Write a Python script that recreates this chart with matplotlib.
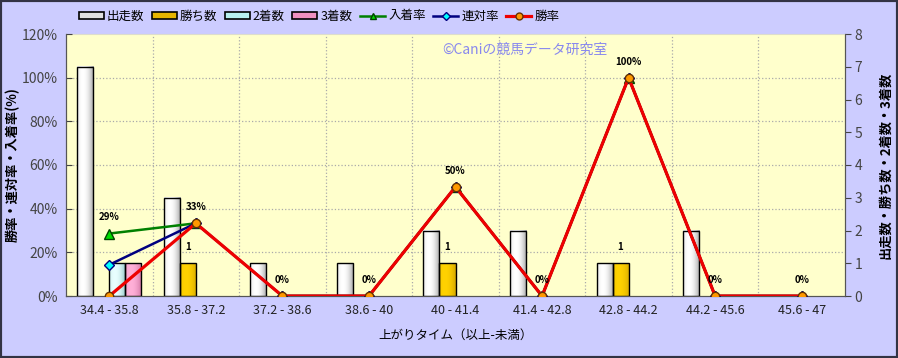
import numpy as np
import matplotlib
matplotlib.use("Agg")
import matplotlib.pyplot as plt
from matplotlib.patches import Rectangle, Patch
from matplotlib.lines import Line2D

plt.rcParams['font.family'] = ['Noto Sans CJK JP', 'DejaVu Sans']

categories = ["34.4 - 35.8", "35.8 - 37.2", "37.2 - 38.6", "38.6 - 40", "40 - 41.4",
              "41.4 - 42.8", "42.8 - 44.2", "44.2 - 45.6", "45.6 - 47"]
runs = [7, 3, 1, 1, 2, 2, 1, 2, 0]
wins = [0, 1, 0, 0, 1, 0, 1, 0, 0]
seconds = [1, 0, 0, 0, 0, 0, 0, 0, 0]
thirds = [1, 0, 0, 0, 0, 0, 0, 0, 0]
place_rate = [28.6, 33.3, 0, 0, 50, 0, 100, 0, 0]
rentai_rate = [14.3, 33.3, 0, 0, 50, 0, 100, 0, 0]
win_rate = [0, 33.3, 0, 0, 50, 0, 100, 0, 0]
pct_ticks = [0, 20, 40, 60, 80, 100, 120]
cnt_ticks = [0, 1, 2, 3, 4, 5, 6, 7, 8]

BG = "#CCCCFF"
PLOT_BG = "#FFFFCC"

fig = plt.figure(figsize=(8.98, 3.58), dpi=100, facecolor=BG)
ax = fig.add_axes([66/898, 1-296/358, (845-66)/898, (296-34)/358])
ax.set_facecolor(PLOT_BG)
ax2 = ax.twinx()
ax2.set_zorder(ax.get_zorder() + 1)
ax2.patch.set_visible(False)

n = len(categories)
x = np.arange(n)
bw = 0.185

def grad_bar(a, xc, h, base, hi, z=3):
    if h <= 0:
        return
    t = np.linspace(0, 1, 64)
    prof = np.clip(1 - ((t - 0.35) / 0.75) ** 2, 0, 1)
    base = np.array(matplotlib.colors.to_rgb(base))
    hi = np.array(matplotlib.colors.to_rgb(hi))
    img = base[None, :] * (1 - prof[:, None]) + hi[None, :] * prof[:, None]
    a.imshow(img[None, :, :], extent=(xc - bw/2, xc + bw/2, 0, h), aspect='auto',
             interpolation='bilinear', zorder=z)
    a.add_patch(Rectangle((xc - bw/2, 0), bw, h, fill=False, edgecolor='black', lw=1.0, zorder=z+0.1))

offs = [-1.5*bw, -0.5*bw, 0.5*bw, 1.5*bw]
series = [(runs, "#808080", "#FFFFFF"), (wins, "#C89B00", "#FFD200"),
          (seconds, "#70B0B0", "#E8FFFF"), (thirds, "#C06090", "#FFB0D8")]
for (vals, c0, c1), o in zip(series, offs):
    for xi, v in zip(x, vals):
        grad_bar(ax, xi + o, v, c0, c1)

ax.set_xlim(-0.5, n - 0.5)
ax.set_ylim(0, 8)
ax.set_yticks(cnt_ticks)
ax.yaxis.tick_right()
ax.yaxis.set_label_position("right")
ax.tick_params(axis='y', direction='out', length=4, colors='#444444', labelsize=10, pad=3)
ax.set_xticks(x)
ax.set_xticklabels(categories, fontsize=9, color='#222222')
ax.tick_params(axis='x', length=0, pad=6)
ax.set_xticks(np.arange(n - 1) + 0.5, minor=True)
ax.tick_params(axis='x', which='minor', length=0)
ax.grid(axis='x', which='minor', color='#AAAAAA', linestyle=':', lw=0.9)
for p in pct_ticks[1:-1]:
    ax.axhline(p / pct_ticks[-1] * cnt_ticks[-1], color='#AAAAAA', linestyle=':', lw=0.9, zorder=1)
ax.set_axisbelow(True)
ax.set_ylabel("出走数・勝ち数・2着数・3着数", fontsize=9.5, fontweight='bold', rotation=90)
ax.yaxis.set_label_coords((878 - 66) / 779, 0.5)
ax.set_xlabel("上がりタイム（以上-未満）", fontsize=9, labelpad=8)

ax.spines['top'].set_color('#DDDDCC')
ax2.spines['top'].set_visible(False)
for a in (ax, ax2):
    a.spines['left'].set_color('#555555')
    a.spines['right'].set_color('#555555')
    a.spines['bottom'].set_color('#555555')

# gold bar count labels
for xi, v in zip(x, wins):
    if v > 0:
        ax.annotate(str(v), (xi + offs[1], v), xytext=(0, 8), textcoords='offset points',
                    ha='center', va='bottom', fontsize=7, fontweight='bold', zorder=6)

# lines on percent axis
ax2.plot(x[:2], place_rate[:2], color='#008000', lw=1.8, marker='^', ms=7,
         mfc='#00DD00', mec='#004400', zorder=4)
ax2.plot(x[2:], place_rate[2:], color='#008000', lw=1.8, marker='^', ms=7,
         mfc='#00DD00', mec='#004400', zorder=4)
ax2.plot(x, rentai_rate, color='#000080', lw=1.8, marker='D', ms=5,
         mfc='#00FFFF', mec='#000080', zorder=5)
ax2.plot(x, win_rate, color='#EE0000', lw=2.3, marker='o', ms=6,
         mfc='#FF9900', mec='#663300', zorder=6)
for xi, v in zip(x, place_rate):
    ax2.annotate(f"{v:.0f}%", (xi, v), xytext=(0, 8), textcoords='offset points',
                 ha='center', va='bottom', fontsize=7, fontweight='bold', zorder=7)

ax2.set_ylim(0, 120)
ax2.set_yticks(pct_ticks)
ax2.set_yticklabels([f"{p}%" for p in pct_ticks])
ax2.yaxis.tick_left()
ax2.yaxis.set_label_position("left")
ax2.tick_params(axis='y', direction='in', length=4, labelsize=10, colors='#444444', pad=6)
ax2.set_ylabel("勝率・連対率・入着率(%)", fontsize=9.5, fontweight='bold')
ax2.yaxis.set_label_coords((20 - 66) / 779, 0.5)

ax2.text((525 - 66) / 779, (296 - 50) / 262, "©Caniの競馬データ研究室", transform=ax.transAxes,
         ha='center', va='center', color='#8888EE', fontsize=10, zorder=8)

handles = [
    Patch(facecolor='#E0E0E0', edgecolor='black', lw=1.2),
    Patch(facecolor='#E6B400', edgecolor='black', lw=1.2),
    Patch(facecolor='#B8F0F0', edgecolor='black', lw=1.2),
    Patch(facecolor='#F090C0', edgecolor='black', lw=1.2),
    Line2D([], [], color='#008000', lw=1.8, marker='^', ms=5, mfc='#00DD00', mec='#004400'),
    Line2D([], [], color='#000080', lw=1.8, marker='D', ms=4, mfc='#00FFFF', mec='#000080'),
    Line2D([], [], color='#EE0000', lw=2.3, marker='o', ms=5, mfc='#FF9900', mec='#663300'),
]
labels = ["出走数", "勝ち数", "2着数", "3着数", "入着率", "連対率", "勝率"]
fig.legend(handles, labels, loc='center left', bbox_to_anchor=(76/898, 1-16/358), ncol=7,
           frameon=False, fontsize=9, handlelength=2.0, handleheight=0.5, handletextpad=0.25,
           columnspacing=0.6, borderaxespad=0, borderpad=0.2)

fig.add_artist(Rectangle((0, 0), 1, 1, transform=fig.transFigure, fill=False,
                         edgecolor='#333344', lw=3, zorder=10))

fig.savefig("out.png", dpi=100, facecolor=BG)
